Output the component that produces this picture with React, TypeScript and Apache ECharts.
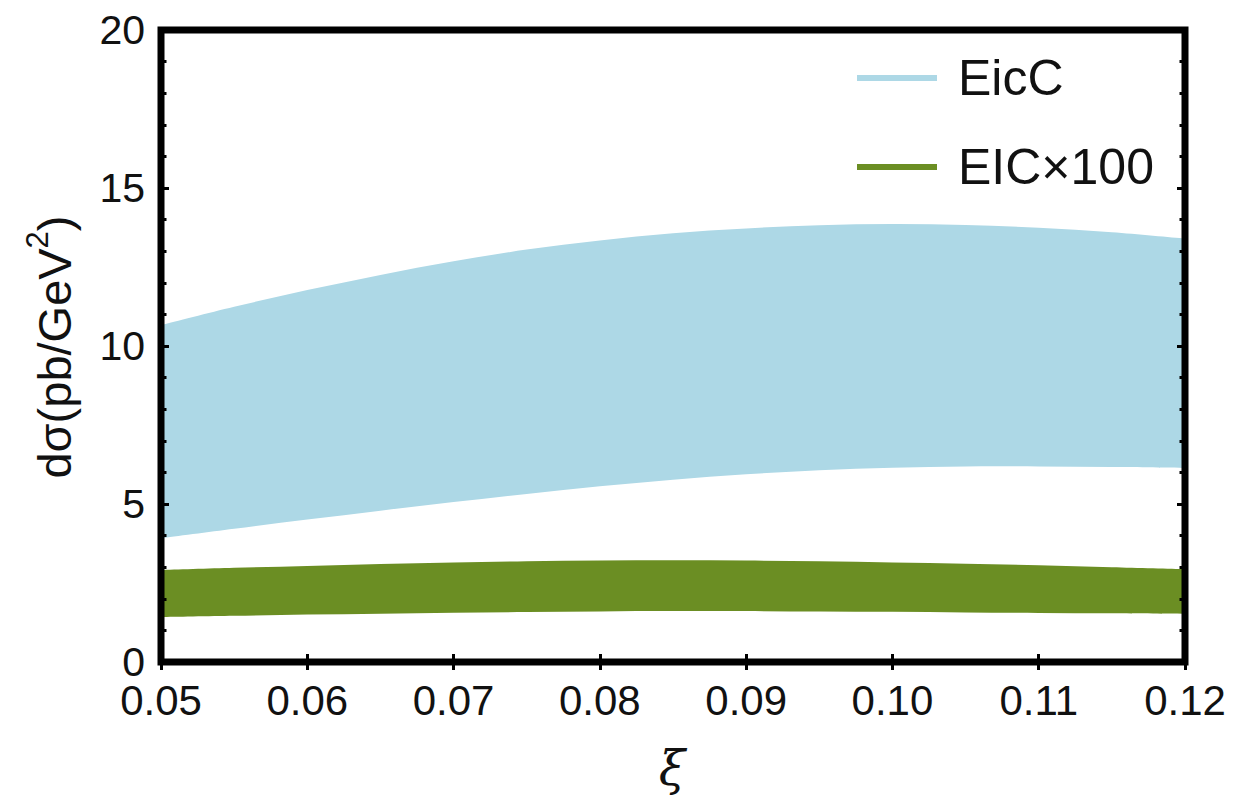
import React, { useEffect, useRef } from "react";
import * as echarts from "echarts";

const xi = [0.05, 0.055, 0.06, 0.065, 0.07, 0.075, 0.08, 0.085, 0.09, 0.095, 0.1, 0.105, 0.11, 0.115, 0.12];
const eiccUpper = [10.66, 11.24, 11.77, 12.25, 12.68, 13.05, 13.34, 13.57, 13.72, 13.82, 13.86, 13.83, 13.74, 13.6, 13.4];
const eiccLower = [3.92, 4.22, 4.51, 4.79, 5.06, 5.32, 5.56, 5.77, 5.94, 6.07, 6.15, 6.19, 6.19, 6.17, 6.14];
const eicUpper = [2.91, 2.98, 3.04, 3.1, 3.15, 3.19, 3.21, 3.22, 3.21, 3.19, 3.15, 3.11, 3.06, 3.0, 2.94];
const eicLower = [1.42, 1.46, 1.5, 1.53, 1.56, 1.58, 1.6, 1.61, 1.61, 1.6, 1.59, 1.57, 1.55, 1.54, 1.52];
const xTicks = { min: 0.05, max: 0.12, interval: 0.01 };
const yTicks = { min: 0, max: 20, interval: 5 };
const seriesNames = ["EicC", "EIC\u00d7100"];
const seriesColors = ["#ADD8E6", "#6B8E23"];

const FONT = "Liberation Sans, Arial, sans-serif";

// Catmull-Rom spline through points, emitted as cubic bezier segments
function splinePath(pts: number[][], start: string): string {
  let d = `${start}${pts[0][0]},${pts[0][1]}`;
  for (let i = 0; i < pts.length - 1; i++) {
    const p0 = pts[Math.max(0, i - 1)];
    const p1 = pts[i];
    const p2 = pts[i + 1];
    const p3 = pts[Math.min(pts.length - 1, i + 2)];
    const c1x = p1[0] + (p2[0] - p0[0]) / 6;
    const c1y = p1[1] + (p2[1] - p0[1]) / 6;
    const c2x = p2[0] - (p3[0] - p1[0]) / 6;
    const c2y = p2[1] - (p3[1] - p1[1]) / 6;
    d += ` C${c1x},${c1y} ${c2x},${c2y} ${p2[0]},${p2[1]}`;
  }
  return d;
}

function bandSeries(name: string, color: string, lower: number[], upper: number[]) {
  return {
    type: "custom",
    name,
    itemStyle: { color },
    clip: true,
    data: xi.map((x, i) => [x, lower[i], upper[i]]),
    encode: { x: 0, y: [1, 2] },
    renderItem: (params: any, api: any) => {
      if (params.dataIndex !== 0) return null;
      const up: number[][] = xi.map((x, i) => api.coord([x, upper[i]]));
      const lo: number[][] = xi.map((x, i) => api.coord([x, lower[i]])).reverse();
      const d = splinePath(up, "M") + " " + splinePath(lo, "L") + " Z";
      return {
        type: "path",
        shape: { pathData: d },
        style: { fill: color, stroke: "none" },
      };
    },
  };
}

export default function App() {
  const ref = useRef<HTMLDivElement>(null);
  useEffect(() => {
    if (!ref.current) return;
    const chart = echarts.init(ref.current, undefined, { renderer: "svg" });
    const tickStyle = { lineStyle: { color: "#000", width: 3 } };
    const xCommon = {
      type: "value",
      min: xTicks.min,
      max: xTicks.max,
      interval: xTicks.interval,
      axisLine: { show: false },
      splitLine: { show: false },
      axisTick: { show: true, inside: true, length: 8, ...tickStyle },
      z: 10,
    };
    const yCommon = {
      type: "value",
      min: yTicks.min,
      max: yTicks.max,
      interval: yTicks.interval,
      axisLine: { show: false },
      splitLine: { show: false },
      axisTick: { show: true, inside: true, length: 8, ...tickStyle },
      minorTick: { show: true, splitNumber: 5, length: 5.5, ...tickStyle },
      z: 10,
    };
    chart.setOption({
      animation: false,
      backgroundColor: "#fff",
      grid: {
        left: 161,
        top: 30,
        width: 1024,
        height: 632,
        show: true,
        borderColor: "#000",
        borderWidth: 7,
        backgroundColor: "transparent",
        z: 10,
      },
      legend: {
        orient: "vertical",
        left: 852,
        top: 48,
        itemWidth: 80,
        itemHeight: 6,
        itemGap: 39,
        icon: "rect",
        data: seriesNames.map((n, i) => ({ name: n, itemStyle: { color: seriesColors[i] } })),
        textStyle: { fontSize: 50, fontFamily: FONT, color: "#111", padding: [0, 0, 0, 16] },
      },
      xAxis: [
        {
          ...xCommon,
          position: "bottom",
          axisLabel: {
            formatter: (v: number) => v.toFixed(2),
            fontSize: 42,
            lineHeight: 32,
            fontFamily: FONT,
            color: "#111",
            margin: 22,
          },
        },
        { ...xCommon, position: "top", axisLabel: { show: false } },
      ],
      yAxis: [
        {
          ...yCommon,
          position: "left",
          axisLabel: { fontSize: 41, lineHeight: 32, fontFamily: FONT, color: "#111", margin: 16 },
        },
        { ...yCommon, position: "right", axisLabel: { show: false } },
      ],
      graphic: [
        {
          type: "text",
          x: 50,
          y: 347,
          rotation: Math.PI / 2,
          style: {
            text: "{a|d\u03c3(pb/GeV}{s|2}{a|)}",
            align: "center",
            verticalAlign: "middle",
            fill: "#111",
            rich: {
              a: { fontSize: 47, fontFamily: FONT, fill: "#111", lineHeight: 56, verticalAlign: "bottom" },
              s: { fontSize: 31, fontFamily: FONT, fill: "#111", lineHeight: 56, verticalAlign: "top", padding: [0, 0, 16, 0] },
            },
          },
        },
        {
          type: "text",
          x: 672,
          y: 768,
          style: {
            text: "\u03be",
            align: "center",
            verticalAlign: "middle",
            fontSize: 48,
            fontFamily: "DejaVu Serif, serif",
            fontStyle: "italic",
            fill: "#111",
          },
        },
      ],
      series: [
        bandSeries(seriesNames[0], seriesColors[0], eiccLower, eiccUpper),
        bandSeries(seriesNames[1], seriesColors[1], eicLower, eicUpper),
      ],
    });
    return () => chart.dispose();
  }, []);
  return (
    <div
      ref={ref}
      style={{ position: "fixed", left: 0, top: 0, width: 1241, height: 802 }}
    />
  );
}
